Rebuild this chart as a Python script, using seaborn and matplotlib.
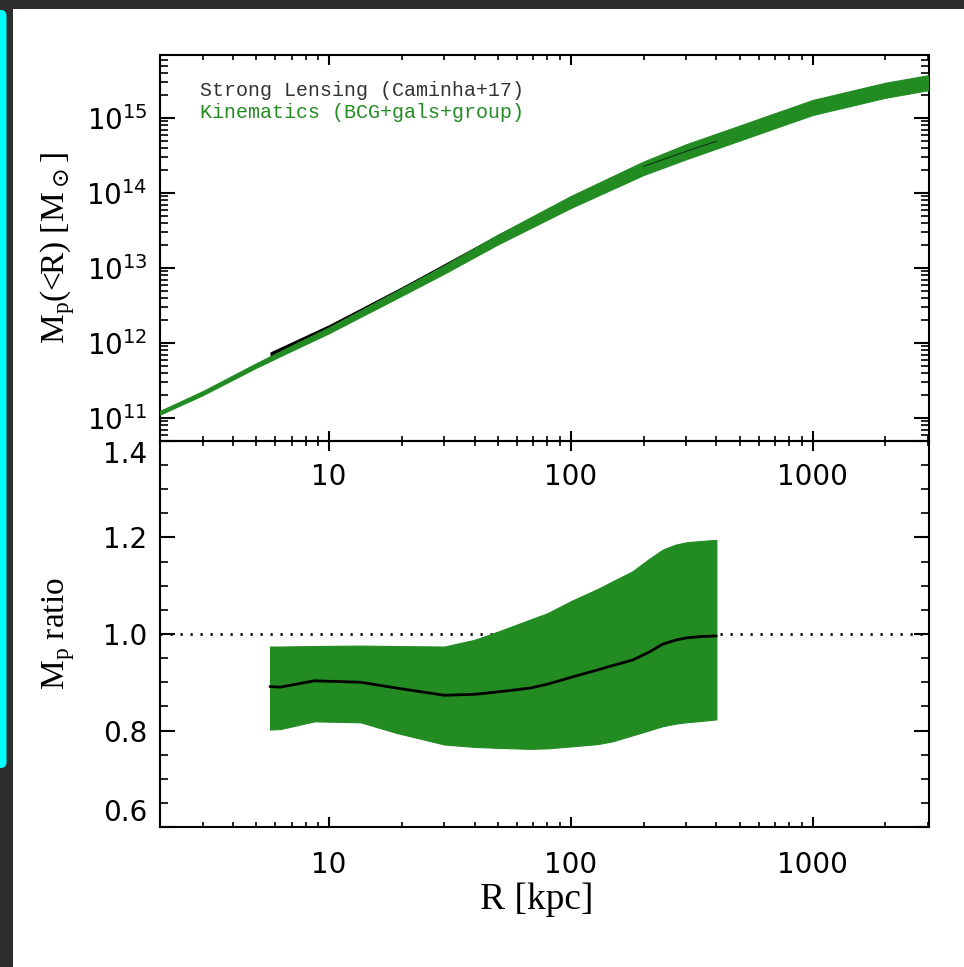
import numpy as np
import pandas as pd
import matplotlib
matplotlib.use("Agg")
import matplotlib.pyplot as plt
import seaborn as sns
from matplotlib.ticker import LogLocator, MultipleLocator, FuncFormatter, NullFormatter, FixedLocator
from matplotlib.patches import Rectangle, FancyBboxPatch

# ---------------- data ----------------
r_kin = [2, 3, 5, 7, 10, 20, 30, 50, 100, 200, 300, 500, 1000, 2000, 3000]
logm_kin = [11.07, 11.33, 11.70, 11.93, 12.17, 12.68, 12.98, 13.38, 13.88,
            14.33, 14.55, 14.80, 15.14, 15.37, 15.47]
dlogm_kin = [0.025, 0.027, 0.03, 0.035, 0.04, 0.05, 0.055, 0.065, 0.08,
             0.09, 0.10, 0.10, 0.10, 0.10, 0.10]

r_sl = [5.7, 10, 20, 30, 50, 100, 200, 300, 400]
logm_sl = [11.84, 12.215, 12.73, 13.04, 13.435, 13.92, 14.355, 14.555, 14.69]
dlogm_sl = [0.04, 0.03, 0.02, 0.018, 0.015, 0.012, 0.01, 0.01, 0.01]

r_ratio = [5.7, 6.3, 8.7, 13.5, 19, 30, 40, 50, 68, 80, 100, 130, 150, 180,
           210, 240, 270, 300, 350, 400]
ratio_mid = [0.891, 0.890, 0.903, 0.900, 0.888, 0.873, 0.875, 0.880, 0.888, 0.896,
             0.910, 0.926, 0.935, 0.946, 0.962, 0.979, 0.987, 0.992, 0.995, 0.996]
ratio_lo = [0.802, 0.803, 0.819, 0.817, 0.795, 0.771, 0.766, 0.764, 0.762, 0.763,
            0.767, 0.772, 0.778, 0.790, 0.800, 0.809, 0.814, 0.817, 0.820, 0.823]
ratio_hi = [0.974, 0.974, 0.975, 0.976, 0.975, 0.974, 0.988, 1.005, 1.030, 1.043,
            1.068, 1.094, 1.110, 1.130, 1.155, 1.175, 1.185, 1.190, 1.193, 1.195]

x_major = [10, 100, 1000]
legend_labels = ["Strong Lensing (Caminha+17)", "Kinematics (BCG+gals+group)"]

kin = pd.DataFrame({"R": r_kin, "logM": logm_kin, "dlogM": dlogm_kin})
sl = pd.DataFrame({"R": r_sl, "logM": logm_sl, "dlogM": dlogm_sl})
rat = pd.DataFrame({"R": r_ratio, "mid": ratio_mid, "lo": ratio_lo, "hi": ratio_hi})

GREEN = "#228B22"
DARK = "#2e2e2e"

# ---------------- figure ----------------
sns.set_theme(style="ticks")
plt.rcParams["font.family"] = ["DejaVu Sans"]
plt.rcParams["mathtext.fontset"] = "dejavusans"

W, H = 964, 967
fig = plt.figure(figsize=(W / 100, H / 100), dpi=100)
fig.patch.set_facecolor("white")

def fx(px):
    return px / W

def fy(py):
    return 1 - py / H

L, R_ = 160, 929
T1, MID, B2 = 55, 441, 827
ax1 = fig.add_axes([fx(L), fy(MID), fx(R_) - fx(L), fy(T1) - fy(MID)])
ax2 = fig.add_axes([fx(L), fy(B2), fx(R_) - fx(L), fy(MID) - fy(B2)])
ax1.set_zorder(3)
ax1.patch.set_alpha(0)
ax2.patch.set_alpha(0)

# ---- top panel ----
ax1.fill_between(sl["R"], 10 ** (sl["logM"] - sl["dlogM"]), 10 ** (sl["logM"] + sl["dlogM"]),
                 color="black", lw=0, zorder=2)
ax1.fill_between(kin["R"], 10 ** (kin["logM"] - kin["dlogM"]), 10 ** (kin["logM"] + kin["dlogM"]),
                 color=GREEN, lw=0.8, edgecolor=GREEN, zorder=3)
sl_line = pd.DataFrame({"R": sl["R"], "M": 10 ** sl["logM"]})
sns.lineplot(data=sl_line[sl_line["R"] >= 150], x="R", y="M", ax=ax1, color="black",
             lw=0.7, alpha=0.7, zorder=4, legend=False)

ax1.set_xscale("log")
ax1.set_yscale("log")
ax1.set_xlim(2, 3030)
ax1.set_ylim(10 ** 10.693, 10 ** 15.84)

ax1.text(0.052, 0.907, legend_labels[0], transform=ax1.transAxes, color="#333333",
         family="Liberation Mono", fontsize=14.4, va="center", ha="left")
ax1.text(0.052, 0.850, legend_labels[1], transform=ax1.transAxes, color=GREEN,
         family="Liberation Mono", fontsize=14.4, va="center", ha="left")

# ---- bottom panel ----
ax2.fill_between(rat["R"], rat["lo"], rat["hi"], color=GREEN, lw=0.8, edgecolor=GREEN, zorder=2)
sns.lineplot(data=rat, x="R", y="mid", ax=ax2, color="black", lw=2.0, zorder=3, legend=False)
ax2.axhline(1.0, color="black", lw=2.0, ls=(0, (0.8, 2.8)), zorder=1)
ax2.set_xscale("log")
ax2.set_xlim(2, 3030)
ax2.set_ylim(0.6, 1.4)

# ---- axes styling ----
for ax in (ax1, ax2):
    for s in ax.spines.values():
        s.set_linewidth(1.5)
        s.set_color("black")
        s.set_visible(True)
    ax.tick_params(which="both", direction="in", top=True, right=True, colors="black")
    ax.tick_params(axis="x", which="major", length=7, width=1.5)
    ax.tick_params(axis="x", which="minor", length=3.5, width=1.2)
    ax.tick_params(axis="y", which="major", length=11, width=1.5, pad=9)
    ax.tick_params(axis="y", which="minor", length=5.5, width=1.2)
    ax.tick_params(labelsize=20)
    ax.xaxis.set_major_locator(FixedLocator(x_major))
    ax.xaxis.set_minor_locator(LogLocator(base=10, subs=np.arange(2, 10)))
    ax.xaxis.set_minor_formatter(NullFormatter())
    ax.xaxis.set_major_formatter(FuncFormatter(lambda v, p: f"{v:g}"))
    ax.set_xlabel("")
    ax.set_ylabel("")

ax1.tick_params(axis="x", which="major", pad=15.5)
ax2.tick_params(axis="x", which="major", pad=17.5)

ax1.yaxis.set_major_locator(LogLocator(base=10, numticks=20))
ax1.yaxis.set_minor_locator(LogLocator(base=10, subs=np.arange(2, 10), numticks=50))
ax1.yaxis.set_minor_formatter(NullFormatter())
ax1.yaxis.set_major_formatter(FuncFormatter(
    lambda v, p: r"$\mathregular{10^{%d}}$" % int(round(np.log10(v)))))

ax2.yaxis.set_major_locator(MultipleLocator(0.2))
ax2.yaxis.set_minor_locator(MultipleLocator(0.05))
ax2.yaxis.set_major_formatter(FuncFormatter(lambda v, p: f"{v:.1f}"))

fig.canvas.draw()
ylabs = ax2.get_yticklabels()
for t in ylabs:
    if t.get_text() == "1.4":
        t.set_va("top")
    if t.get_text() == "0.6":
        t.set_va("bottom")

lab_font = dict(family="Liberation Serif", fontsize=24, color="black")
ax1.set_ylabel(r"M$_\mathregular{p}$(<R) [M$_\odot$]", **lab_font)
ax2.set_ylabel(r"M$_\mathregular{p}$ ratio", **lab_font)
ax2.set_xlabel("R [kpc]", family="Liberation Serif", fontsize=27, color="black")
ax1.yaxis.set_label_coords(-0.108, 0.5)
ax2.yaxis.set_label_coords(-0.108, 0.5)
ax2.xaxis.set_label_coords(0.49, -0.145)

# ---- screenshot frame decoration ----
fig.add_artist(Rectangle((0, fy(9)), 1, 1 - fy(9), transform=fig.transFigure,
                         facecolor=DARK, edgecolor="none", zorder=10))
fig.add_artist(Rectangle((0, 0), fx(13), 1, transform=fig.transFigure,
                         facecolor=DARK, edgecolor="none", zorder=10))
fig.add_artist(FancyBboxPatch((fx(-6), fy(768)), fx(12.5), fy(10) - fy(768),
                              boxstyle="round,pad=0,rounding_size=0.006",
                              transform=fig.transFigure, facecolor="#00ffff",
                              edgecolor="none", zorder=11))

fig.savefig("out.png", dpi=100, facecolor="white")
